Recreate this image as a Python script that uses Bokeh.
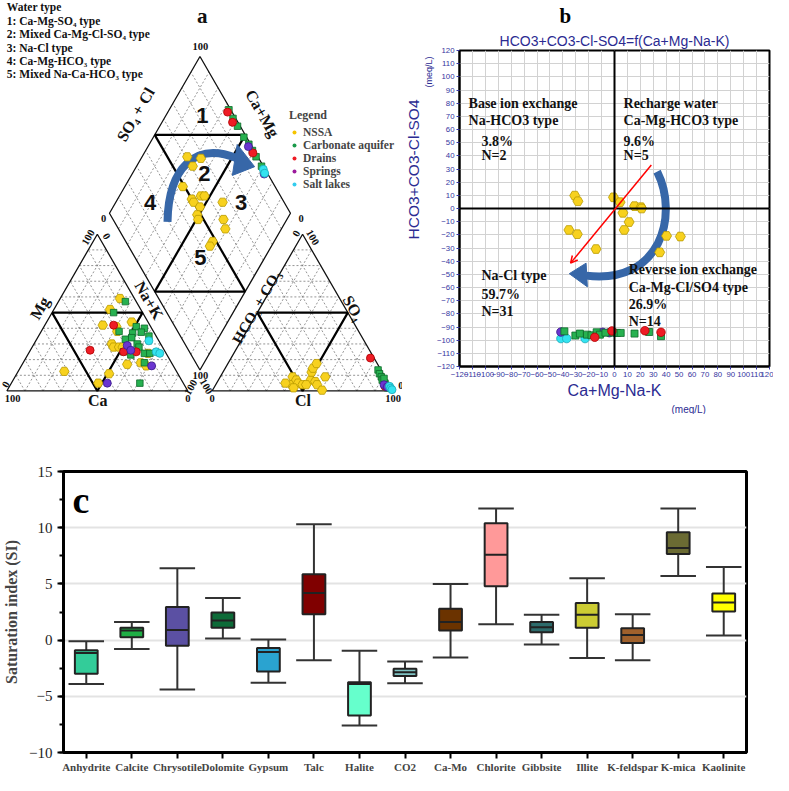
import numpy as np
from bokeh.plotting import figure
from bokeh.models import (Range1d, FactorRange, ColumnDataSource, Label, Span, Arrow, OpenHead,
                          FixedTicker, SingleIntervalTicker, Legend, LegendItem, Title)
from bokeh.transform import dodge
from bokeh.layouts import row, column
from bokeh.core.properties import value
from bokeh.embed import file_html
from bokeh.resources import INLINE

# ======================= DATA =======================
groups = ["NSSA", "Carbonate aquifer", "Drains", "Springs", "Salt lakes"]

# --- Piper: cation triangle (Ca %, Mg %) ---
nssa_ca = [8, 17, 26, 19, 20, 9, 27, 27, 24, 25, 17, 15, 10, 62, 38, 47, 22]
nssa_mg = [59, 52, 42, 41, 38, 44, 30, 28, 28, 17, 18, 16, 24, 12.5, 11, 5, 28]
carb_ca = [6, 16, 19, 8, 4, 12, 7, 4, 18, 14, 13, 13, 12, 9, 23, 20, 15, 24]
carb_mg = [57, 50, 38, 41, 40, 37, 37.5, 35, 33, 34, 30, 28, 24, 24, 25, 23, 18, 5]
drain_ca = [41, 20, 23, 16]
drain_mg = [26, 42, 25, 25]
spring_ca = [19, 18.5, 12, 42]
spring_mg = [29, 26, 16, 5]
lake_ca = [5.5, 5, 3.5]
lake_mg = [32, 25, 24]

# --- Piper: anion triangle (Cl %, SO4 %) ---
nssa_cl = [40, 42, 43, 45, 48, 51, 49, 48.5, 49, 54, 56, 58, 60.5, 50, 38, 44]
nssa_so4 = [9, 4, 7, 5, 4, 7, 12, 14.5, 17.5, 6, 4, 9, 0.5, 4, 5, 2]
carb_cl = [85, 87, 89, 90.5, 93, 95, 91, 96]
carb_so4 = [13.4, 11, 9, 7, 5, 3, 8, 2]
drain_cl = [77, 94]
drain_so4 = [21, 3]
spring_cl = [93, 95.5]
spring_so4 = [4, 2.5]
lake_cl = [96.5, 97.8, 99]
lake_so4 = [3, 1.7, 0.8]

# --- Piper: diamond (Ca+Mg %, SO4+Cl %) ---
nssa_dcamg = [75, 67, 69, 68, 59, 55, 53, 57, 52, 41, 51, 49, 35, 31, 34, 34]
nssa_dclso4 = [61, 68, 61, 49, 50, 56, 58, 50, 52, 66, 48, 47, 61, 59, 48, 45]
carb_dcamg = [67, 62, 57, 50, 45, 41, 37, 31]
carb_dclso4 = [99, 98.5, 98.5, 98.5, 99, 99, 99, 99]
drain_dcamg = [67, 61, 40]
drain_dclso4 = [97.5, 97, 98.5]
spring_dcamg = [27, 44.5]
spring_dclso4 = [98, 98]
lake_dcamg = [29, 27]
lake_dclso4 = [99, 98.5]

# --- Chadha diagram (meq/L) ---
nssa_x = [-30.8, -28.3, -0.8, 4.3, 15.5, 20.5, 21.0, 6.5, 11.3, 7.5, -35.3, -28.8, -14.3, 40.3, 51.0, 35.0]
nssa_y = [9.8, 5.5, 8.5, 4.8, 1.8, 1.0, 0.0, -3.3, -10.3, -16.3, -16.3, -19.5, -30.8, -20.8, -21.3, -33.3]
carb_x = [-38.8, -30.3, -26.8, -21.3, -17.8, -13.8, -11.3, -7.0, -0.8, 1.8, 4.8, 15.5, 26.8, 36.0]
carb_y = [-93.3, -96.5, -95.0, -95.8, -96.3, -94.0, -95.8, -94.3, -94.3, -94.5, -94.5, -95.0, -93.8, -97.0]
drain_x = [-15.3, -2.0, 23.5, 36.0]
drain_y = [-97.8, -93.0, -92.8, -94.0]
spring_x = [-41.5, -9.3, -4.0]
spring_y = [-93.8, -94.0, -94.3]
lake_x = [-41.5, -37.0, -22.8]
lake_y = [-98.8, -98.8, -98.8]

# --- Saturation indices ---
minerals = ["Anhydrite", "Calcite", "Chrysotile", "Dolomite", "Gypsum", "Talc", "Halite", "CO2",
            "Ca-Mo", "Chlorite", "Gibbsite", "Illite", "K-feldspar", "K-mica", "Kaolinite"]
si_wmax = [-0.1, 1.6, 6.4, 3.75, 0.05, 10.3, -0.95, -1.9, 5.0, 11.7, 2.25, 5.5, 2.3, 11.7, 6.5]
si_q3 = [-0.9, 1.1, 2.95, 2.45, -0.7, 5.85, -3.75, -2.55, 2.8, 10.4, 1.6, 3.3, 1.05, 9.6, 4.15]
si_med = [-1.15, 0.85, 0.9, 1.75, -1.05, 4.2, -3.9, -2.85, 1.6, 7.6, 1.15, 2.25, 0.45, 8.2, 3.35]
si_q1 = [-3.0, 0.25, -0.5, 1.1, -2.8, 2.3, -6.7, -3.2, 0.85, 4.8, 0.7, 1.1, -0.25, 7.65, 2.55]
si_wmin = [-3.9, -0.8, -4.4, 0.15, -3.8, -1.8, -7.6, -3.85, -1.55, 1.4, -0.4, -1.6, -1.8, 5.7, 0.4]
box_colors = ["#33cc99", "#1fae45", "#5b50a3", "#0d6b38", "#2aa3d0", "#800000", "#66ffcc", "#80c4c4",
              "#6b3300", "#ff9999", "#2d6b6b", "#cccc33", "#a0612c", "#6b6b33", "#ffff00"]

# ======================= STYLE =======================
SERIF = "Liberation Serif"
SANS = "Liberation Sans"
BLUE_TXT = "#2b2b92"
ARROW_BLUE = "#3767a8"
STYLE = {
    "NSSA": dict(marker="hex", fill="#f7d11e", line="#b99a00", size=9.5, leg="#f5c400"),
    "Carbonate aquifer": dict(marker="square", fill="#27b150", line="#0d6a2a", size=6.5, leg="#1a9a4a"),
    "Drains": dict(marker="circle", fill="#ee1c25", line="#b00000", size=8, leg="#ee1c25"),
    "Springs": dict(marker="circle", fill="#6a35d0", line="#3b1a8a", size=8, leg="#9c1a9c"),
    "Salt lakes": dict(marker="circle", fill="#33e3f0", line="#18a8b8", size=8, leg="#33ccee"),
}

# ======================= PANEL a : PIPER =======================
S = np.sqrt(3) / 2
G = 0.134
BX, BY = 1 + G / 2, G * S
K = 181.0
W1, H1 = 402, 414
XL, YB = -0.035, -0.13


def U(px, py):
    return (px - 10) / 187.0, (402.7 - py) / 187.0


def cat_pt(ca, mg):
    na = 1 - ca - mg
    return na + 0.5 * mg, S * mg


def an_pt(cl, so4):
    return 1 + G + cl + 0.5 * so4, S * so4


def dia_pt(camg, clso4):
    return BX + 0.5 * (clso4 - camg), BY + S * (camg + clso4)


p1 = figure(width=W1, height=H1, x_range=Range1d(XL, XL + W1 / K), y_range=Range1d(YB, YB + H1 / K),
            output_backend="svg", toolbar_location=None, min_border=0, title=None,
            x_axis_location=None, y_axis_location=None)
p1.frame_align = False
p1.grid.visible = False
p1.outline_line_color = None

# dashed grids
gxs, gys = [], []
for i in range(1, 10):
    t = i / 10
    for a, b in [(cat_pt(1 - t, t), cat_pt(0, t)), (cat_pt(t, 0), cat_pt(t, 1 - t)), (cat_pt(1 - t, 0), cat_pt(0, 1 - t)),
                 (an_pt(0, t), an_pt(1 - t, t)), (an_pt(t, 0), an_pt(t, 1 - t)), (an_pt(1 - t, 0), an_pt(0, 1 - t)),
                 (dia_pt(t, 0), dia_pt(t, 1)), (dia_pt(0, t), dia_pt(1, t))]:
        gxs.append([a[0], b[0]])
        gys.append([a[1], b[1]])
p1.multi_line(gxs, gys, line_color="#7a7a7a", line_width=0.8, line_dash="2 2")

# outlines
outl = [[cat_pt(1, 0), cat_pt(0, 0), cat_pt(0, 1), cat_pt(1, 0)],
        [an_pt(0, 0), an_pt(1, 0), an_pt(0, 1), an_pt(0, 0)],
        [dia_pt(0, 0), dia_pt(1, 0), dia_pt(1, 1), dia_pt(0, 1), dia_pt(0, 0)]]
p1.multi_line([[q[0] for q in l] for l in outl], [[q[1] for q in l] for l in outl],
              line_color="#111111", line_width=1.3)
# thick inner division lines
inner = [[cat_pt(0.5, 0.5), cat_pt(0, 0.5), cat_pt(0.5, 0), cat_pt(0.5, 0.5)],
         [an_pt(0, 0.5), an_pt(0.5, 0.5), an_pt(0.5, 0), an_pt(0, 0.5)],
         [dia_pt(1, 0.5), dia_pt(0.5, 1)], [dia_pt(0.5, 0), dia_pt(0, 0.5)],
         [dia_pt(1, 0.5), dia_pt(0, 0.5)], [dia_pt(0.5, 1), dia_pt(0.5, 0)]]
p1.multi_line([[q[0] for q in l] for l in inner], [[q[1] for q in l] for l in inner],
              line_color="#000000", line_width=2.2)

# blue curved arrow
a0, c0, c1, a1 = U(176, 228), U(177, 172), U(205, 145), U(247, 162)
p1.bezier(x0=[a0[0]], y0=[a0[1]], cx0=[c0[0]], cy0=[c0[1]], cx1=[c1[0]], cy1=[c1[1]], x1=[a1[0]], y1=[a1[1]],
          line_color=ARROW_BLUE, line_width=8)
hd = [U(266, 171), U(248, 148), U(243, 180)]
p1.patch([q[0] for q in hd], [q[1] for q in hd], fill_color=ARROW_BLUE, line_color=ARROW_BLUE)

piper_sets = [
    ("NSSA", nssa_ca, nssa_mg, nssa_cl, nssa_so4, nssa_dcamg, nssa_dclso4),
    ("Carbonate aquifer", carb_ca, carb_mg, carb_cl, carb_so4, carb_dcamg, carb_dclso4),
    ("Drains", drain_ca, drain_mg, drain_cl, drain_so4, drain_dcamg, drain_dclso4),
    ("Springs", spring_ca, spring_mg, spring_cl, spring_so4, spring_dcamg, spring_dclso4),
    ("Salt lakes", lake_ca, lake_mg, lake_cl, lake_so4, lake_dcamg, lake_dclso4),
]
for name, ca, mg, cl, so4, dcm, dcs in piper_sets:
    st = STYLE[name]
    cx, cy = cat_pt(np.array(ca) / 100, np.array(mg) / 100)
    ax, ay = an_pt(np.array(cl) / 100, np.array(so4) / 100)
    dx, dy = dia_pt(np.array(dcm) / 100, np.array(dcs) / 100)
    p1.scatter(np.concatenate([cx, ax, dx]), np.concatenate([cy, ay, dy]), marker=st["marker"], size=st["size"],
               fill_color=st["fill"], line_color=st["line"], line_width=0.8)

# legend (sample glyphs placed outside the visible range)
leg_items = []
for name in groups:
    r = p1.scatter(x=[-5], y=[-5], marker="circle", size=8, fill_color=STYLE[name]["leg"], line_color=None)
    leg_items.append(LegendItem(label=name, renderers=[r]))
legend = Legend(items=leg_items, location=(289, 224), title="Legend",
                background_fill_alpha=0, border_line_color=None,
                label_text_font=SERIF, label_text_font_style="bold", label_text_font_size="11.5px",
                title_text_font=SERIF, title_text_font_style="bold", title_text_font_size="12px",
                glyph_width=10, glyph_height=10, label_height=12, spacing=1, padding=2, margin=0,
                label_standoff=4, title_standoff=3)
p1.add_layout(legend)

# region numbers
reg = [("1", 212, 118), ("2", 214, 178), ("3", 252, 208), ("4", 158, 208), ("5", 210, 265)]
p1.text([U(a, b)[0] for _, a, b in reg], [U(a, b)[1] for _, a, b in reg], text=[t for t, _, _ in reg],
        text_font=value(SANS), text_font_style="bold", text_font_size="22px",
        text_align="center", text_baseline="middle", text_color="#111111")


def ptext(items, size, align="center"):
    p1.text([U(a, b)[0] for _, a, b, _ in items], [U(a, b)[1] for _, a, b, _ in items],
            text=[t for t, _, _, _ in items], angle=[np.deg2rad(r) for _, _, _, r in items],
            text_font=value(SERIF), text_font_style="bold", text_font_size=size,
            text_align=align, text_baseline="middle", text_color="#111111")


ptext([("a", 212, 15, 0)], "21px")
ptext([("SO₄ + Cl", 143, 117, 60), ("Ca+Mg", 274, 116, -60), ("Na+K", 157, 309, -60),
       ("Mg", 44, 317, 60), ("SO₄", 368, 317, -60), ("Ca", 104, 413, 0), ("Cl", 316, 413, 0)], "16px")
ptext([("HCO₃ + CO₃", 268, 316, 60)], "15px")
ptext([("100", 210, 47, 0), ("0", 110, 224, 0), ("0", 314, 224, 0), ("100", 210, 387, 0),
       ("100", 94, 244, 60), ("0", 113, 243, -60), ("0", 9, 396, 60), ("100", 16, 410, 0),
       ("100", 200, 399, 60), ("0", 197, 410, 0), ("100", 216, 398, -60), ("0", 222, 410, 0),
       ("0", 309, 240, 60), ("100", 326, 244, -60), ("0", 417, 397, 0), ("100", 409, 410, 0)], "10.5px")
wt = ["Water type", "1: Ca-Mg-SO₄ type", "2: Mixed Ca-Mg-Cl-SO₄ type", "3: Na-Cl type",
      "4: Ca-Mg-HCO₃ type", "5: Mixed Na-Ca-HCO₃ type"]
ptext([(t, 10, 6.5 + 13.8 * i, 0) for i, t in enumerate(wt)], "11.5px", align="left")

# ======================= PANEL b : CHADHA =======================
W2 = 773 - W1
p2 = figure(width=W2, height=H1, x_range=Range1d(-120, 120), y_range=Range1d(-120, 120),
            output_backend="svg", toolbar_location=None, title=None,
            min_border_left=40, min_border_right=4, min_border_top=50, min_border_bottom=40)
p2.frame_align = False
p2.add_layout(Title(text="HCO3+CO3-Cl-SO4=f(Ca+Mg-Na-K)", align="center", text_color=BLUE_TXT,
                    text_font=SANS, text_font_size="14px", text_font_style="normal", standoff=4), "above")
p2.add_layout(Title(text="b", align="left", offset=100, text_color="#000000",
                    text_font=SERIF, text_font_size="21px", text_font_style="bold", standoff=2), "above")
# y-axis titles (left side, stacked outward)
p2.add_layout(Title(text="(meq/L)", align="right", offset=6, text_color=BLUE_TXT,
                    text_font=SANS, text_font_size="9px", text_font_style="normal", standoff=0), "left")
p2.add_layout(Title(text="HCO3+CO3-Cl-SO4", align="right", offset=49, text_color=BLUE_TXT,
                    text_font=SANS, text_font_size="15.5px", text_font_style="normal", standoff=0), "left")
ticks = list(range(-120, 121, 10))
for ax in (p2.xaxis, p2.yaxis):
    ax.ticker = FixedTicker(ticks=ticks)
    ax.major_label_text_font = SANS
    ax.major_label_text_font_size = "7.8px"
    ax.major_label_text_color = "#3636a0"
    ax.major_tick_out = 3
    ax.major_tick_in = 0
    ax.major_tick_line_color = "#3636a0"
    ax.minor_tick_line_color = None
    ax.axis_line_color = "#000000"
    ax.axis_line_width = 2
    ax.major_label_standoff = 2
p2.xaxis.axis_label = "Ca+Mg-Na-K"
p2.xaxis.axis_label_text_font = SANS
p2.xaxis.axis_label_text_font_style = "normal"
p2.xaxis.axis_label_text_font_size = "16px"
p2.xaxis.axis_label_text_color = BLUE_TXT
p2.xaxis.axis_label_standoff = 2
p2.add_layout(Title(text="(meq/L)", align="left", offset=212, text_color=BLUE_TXT,
                    text_font=SANS, text_font_size="10px", text_font_style="normal", standoff=0), "below")
p2.grid.grid_line_color = "#d2d2d2"
p2.grid.grid_line_width = 1
p2.outline_line_color = "#000000"
p2.outline_line_width = 2
p2.add_layout(Span(location=0, dimension="height", line_color="#000000", line_width=2))
p2.add_layout(Span(location=0, dimension="width", line_color="#000000", line_width=2))

# quadrant annotations
ann = [("Base ion exchange", -113, 80), ("Na-HCO3 type", -113, 67), ("3.8%", -103, 51), ("N=2", -103, 40),
       ("Recharge water", 7, 80), ("Ca-Mg-HCO3 type", 7, 67), ("9.6%", 7, 51), ("N=5", 7, 40),
       ("Na-Cl type", -103, -51), ("59.7%", -103, -65), ("N=31", -103, -78),
       ("Reverse ion exchange", 11, -46.5), ("Ca-Mg-Cl/SO4 type", 11, -60), ("26.9%", 11, -73), ("N=14", 11, -86)]
for t, x, y in ann:
    p2.add_layout(Label(x=x, y=y, text=t, text_align="left", text_baseline="middle", text_font=SERIF,
                        text_font_style="bold", text_font_size="14px", text_color="#111111"))

# arrows
p2.add_layout(Arrow(end=OpenHead(size=7, line_color="#ff0000", line_width=1.5),
                    x_start=28.5, y_start=33, x_end=-34, y_end=-41.5, line_color="#ff0000", line_width=1.5))
p2.bezier(x0=[33], y0=[28], cx0=[50], cy0=[-5], cx1=[36], cy1=[-58], x1=[-22], y1=[-51],
          line_color=ARROW_BLUE, line_width=8)
p2.patch([-35, -22, -21], [-49.5, -41.5, -59.5], fill_color=ARROW_BLUE, line_color=ARROW_BLUE)

chadha_sets = [("NSSA", nssa_x, nssa_y), ("Salt lakes", lake_x, lake_y), ("Springs", spring_x, spring_y),
               ("Carbonate aquifer", carb_x, carb_y), ("Drains", drain_x, drain_y)]
for name, xs, ys in chadha_sets:
    st = STYLE[name]
    p2.scatter(xs, ys, marker=st["marker"], size=st["size"] + 0.5, fill_color=st["fill"],
               line_color=st["line"], line_width=0.8)

# ======================= PANEL c : BOX PLOT =======================
src = ColumnDataSource(dict(mineral=minerals, wmin=si_wmin, q1=si_q1, med=si_med, q3=si_q3,
                            wmax=si_wmax, color=box_colors))
p3 = figure(width=773, height=775 - H1, x_range=FactorRange(factors=minerals), y_range=Range1d(-10, 15),
            output_backend="svg", toolbar_location=None, title=None,
            min_border_left=54, min_border_right=27, min_border_top=57, min_border_bottom=22)
p3.frame_align = False
p3.xgrid.grid_line_color = None
p3.ygrid.grid_line_color = "#e3e3e3"
p3.ygrid.grid_line_width = 2
p3.yaxis.ticker = SingleIntervalTicker(interval=5, num_minor_ticks=2)
for ax in (p3.xaxis, p3.yaxis):
    ax.axis_line_width = 3
    ax.axis_line_color = "#000000"
    ax.major_tick_line_width = 2
    ax.major_tick_out = 6
    ax.major_tick_in = 0
p3.yaxis.minor_tick_out = 4
p3.yaxis.minor_tick_in = 0
p3.yaxis.minor_tick_line_width = 2
p3.yaxis.major_label_text_font = SERIF
p3.yaxis.major_label_text_font_size = "15px"
p3.yaxis.major_label_text_color = "#222222"
p3.yaxis.axis_label = "Saturation index (SI)"
p3.yaxis.axis_label_text_font = SERIF
p3.yaxis.axis_label_text_font_style = "bold"
p3.yaxis.axis_label_text_font_size = "16px"
p3.yaxis.axis_label_standoff = 6
p3.xaxis.major_label_text_font = SERIF
p3.xaxis.major_label_text_font_style = "bold"
p3.xaxis.major_label_text_font_size = "11px"
p3.xaxis.major_label_standoff = 2
p3.outline_line_color = "#000000"
p3.outline_line_width = 3

WC = "#333333"
p3.segment(x0="mineral", y0="wmin", x1="mineral", y1="wmax", source=src, line_color=WC, line_width=2)
for col in ("wmin", "wmax"):
    p3.segment(x0=dodge("mineral", -0.39, range=p3.x_range), x1=dodge("mineral", 0.39, range=p3.x_range),
               y0=col, y1=col, source=src, line_color=WC, line_width=2)
p3.vbar(x="mineral", top="q3", bottom="q1", width=0.5, fill_color="color", line_color="#222222",
        line_width=2, source=src)
p3.segment(x0=dodge("mineral", -0.25, range=p3.x_range), x1=dodge("mineral", 0.25, range=p3.x_range),
           y0="med", y1="med", source=src, line_color="#222222", line_width=2)
p3.add_layout(Label(x=0.2, y=12.5, text="c", text_align="left", text_baseline="middle", text_font=SERIF,
                    text_font_style="bold", text_font_size="38px", text_color="#000000"))

layout = column(row(p1, p2), p3)
open("out.html", "w").write(file_html(layout, INLINE))
